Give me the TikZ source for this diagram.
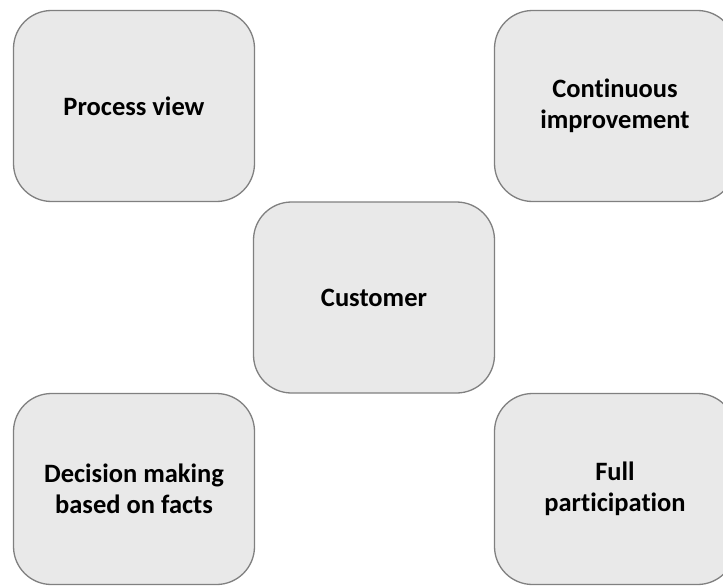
\documentclass[tikz,border=0pt]{standalone}
\usepackage{fontspec}
\setmainfont{Carlito}[Ligatures=CommonOff]
\definecolor{boxfill}{HTML}{E9E9E9}
\definecolor{boxline}{HTML}{808080}
\begin{document}
\begin{tikzpicture}[x=1pt, y=-1pt,
    principle/.style={draw=boxline, fill=boxfill, line width=1.3pt, rounded corners=38pt,
        minimum width=241pt, minimum height=191pt, align=center,
        font=\fontsize{26.5}{30.5}\selectfont\bfseries}]
            \clip (0,0) rectangle (723,586);
            \fill[white] (0,0) rectangle (723,586);
            \node[principle] (process) at (134,106) {Process view};
            \node[principle] (improve) at (615,106) {Continuous\\improvement};
            \node[principle] (customer) at (374,297.5) {Customer};
            \node[principle] (facts) at (134,489) {Decision making\\based on facts};
            \node[principle] (particip) at (615,489) {Full\\participation};
    \end{tikzpicture}
\end{document}
